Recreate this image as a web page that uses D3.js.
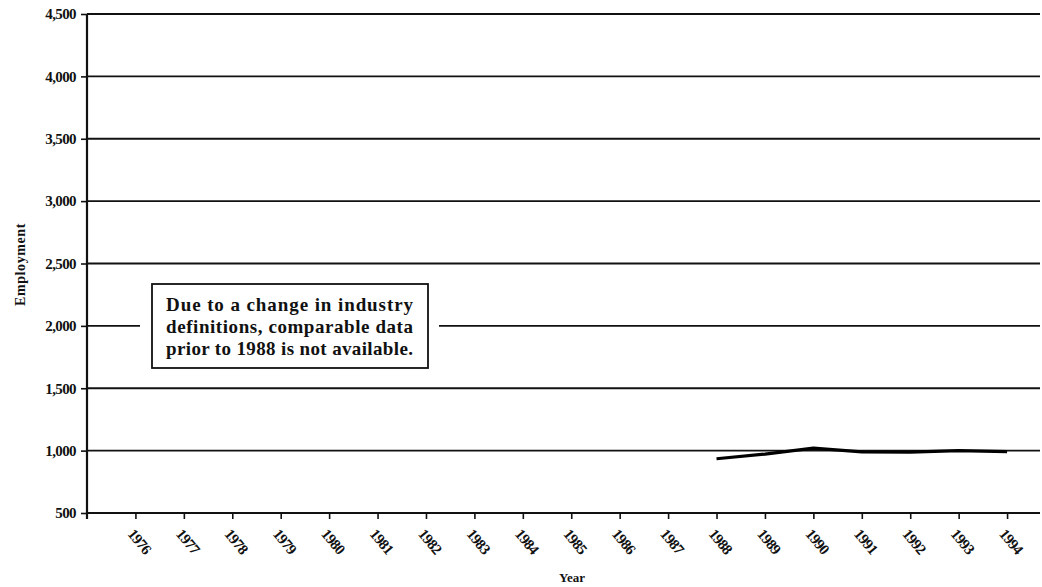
<!DOCTYPE html>
<html>
<head>
<meta charset="utf-8">
<script src="https://cdn.jsdelivr.net/npm/d3@7"></script>
<style>
  body { margin: 0; background: #fff; }
  svg { display: block; }
  svg text { font-family: "Liberation Serif", "DejaVu Serif", serif; }
</style>
</head>
<body>
<div id="chart"></div>
<script>
// tick labels along the x axis
const tickYears = [1976, 1977, 1978, 1979, 1980, 1981, 1982, 1983, 1984, 1985,
  1986, 1987, 1988, 1989, 1990, 1991, 1992, 1993, 1994];
const yTicks = [500, 1000, 1500, 2000, 2500, 3000, 3500, 4000, 4500];

// employment series (only 1988 onward is available)
const dataYears = [1988, 1989, 1990, 1991, 1992, 1993, 1994];
const employment = [935, 972, 1020, 990, 988, 1000, 992];

const noteLines = [
  "Due to a change in industry",
  "definitions, comparable data",
  "prior to 1988 is not available."
];

const width = 1042, height = 587;
const margin = { top: 14, right: 2, bottom: 74, left: 87 };

const svg = d3.select("#chart").append("svg")
  .attr("width", width)
  .attr("height", height);

/** scales */
const x = d3.scaleLinear()
  .domain([1975, 1994.68])
  .range([margin.left, width - margin.right]);

const y = d3.scaleLinear()
  .domain([500, 4500])
  .range([height - margin.bottom, margin.top]);

/** horizontal gridlines */
svg.append("g")
  .attr("class", "grid")
  .selectAll("line")
  .data(yTicks)
  .join("line")
  .attr("x1", margin.left)
  .attr("x2", width - margin.right)
  .attr("y1", d => y(d))
  .attr("y2", d => y(d))
  .attr("stroke", "#111")
  .attr("stroke-width", 1.8);

/** y axis */
const yAxis = d3.axisLeft(y)
  .tickValues(yTicks)
  .tickFormat(d3.format(","))
  .tickSize(6)
  .tickPadding(5);

const yG = svg.append("g")
  .attr("transform", "translate(" + margin.left + ",0)")
  .call(yAxis)
  .attr("font-family", null);
yG.select(".domain").remove();
yG.selectAll(".tick line").attr("stroke", "#111").attr("stroke-width", 1.6);
yG.selectAll(".tick text")
  .attr("fill", "#111")
  .style("font-size", "15px")
  .style("font-weight", "bold")
  .style("letter-spacing", "-0.6px");

// vertical axis line, runs a little past the x axis
svg.append("line")
  .attr("x1", margin.left).attr("x2", margin.left)
  .attr("y1", y(4500)).attr("y2", y(500) + 6)
  .attr("stroke", "#111")
  .attr("stroke-width", 2.2);

/** x axis */
const xAxis = d3.axisBottom(x)
  .tickValues(tickYears)
  .tickFormat(d => d)
  .tickSize(6);

const xG = svg.append("g")
  .attr("transform", "translate(0," + y(500) + ")")
  .call(xAxis)
  .attr("font-family", null);
xG.select(".domain").remove();
xG.selectAll(".tick line").attr("stroke", "#111").attr("stroke-width", 1.6);
xG.selectAll(".tick text")
  .attr("fill", "#111")
  .attr("text-anchor", "start")
  .attr("transform", "translate(-5,18) rotate(50)")
  .attr("y", 0)
  .attr("dy", "0.35em")
  .style("font-size", "15px")
  .style("font-weight", "bold")
  .style("letter-spacing", "-0.7px");

/** axis titles */
svg.append("text")
  .attr("x", 572)
  .attr("y", 582)
  .attr("text-anchor", "middle")
  .attr("fill", "#111")
  .style("font-size", "13px")
  .style("font-weight", "bold")
  .text("Year");

svg.append("text")
  .attr("transform", "translate(25," + (y(2500) + 1) + ") rotate(-90)")
  .attr("text-anchor", "middle")
  .attr("fill", "#111")
  .style("font-size", "14px")
  .style("font-weight", "bold")
  .style("letter-spacing", "0.6px")
  .text("Employment");

/** data line */
const line = d3.line()
  .x((d, i) => x(dataYears[i]))
  .y(d => y(d));

svg.append("path")
  .datum(employment)
  .attr("fill", "none")
  .attr("stroke", "#000")
  .attr("stroke-width", 3.2)
  .attr("stroke-linejoin", "round")
  .attr("d", line);

/** note box */
const note = svg.append("g").attr("id", "note");
note.append("rect")
  .attr("x", 140).attr("y", 278)
  .attr("width", 299).attr("height", 96)
  .attr("fill", "#fff");
note.append("rect")
  .attr("x", 152).attr("y", 284)
  .attr("width", 276).attr("height", 84)
  .attr("fill", "#fff")
  .attr("stroke", "#111")
  .attr("stroke-width", 1.8);
note.selectAll("text")
  .data(noteLines)
  .join("text")
  .attr("x", 166)
  .attr("y", (d, i) => 311 + i * 22)
  .attr("fill", "#111")
  .attr("textLength", 247)
  .attr("lengthAdjust", "spacing")
  .style("font-size", "19px")
  .style("font-weight", "bold")
  .text(d => d);
</script>
</body>
</html>
